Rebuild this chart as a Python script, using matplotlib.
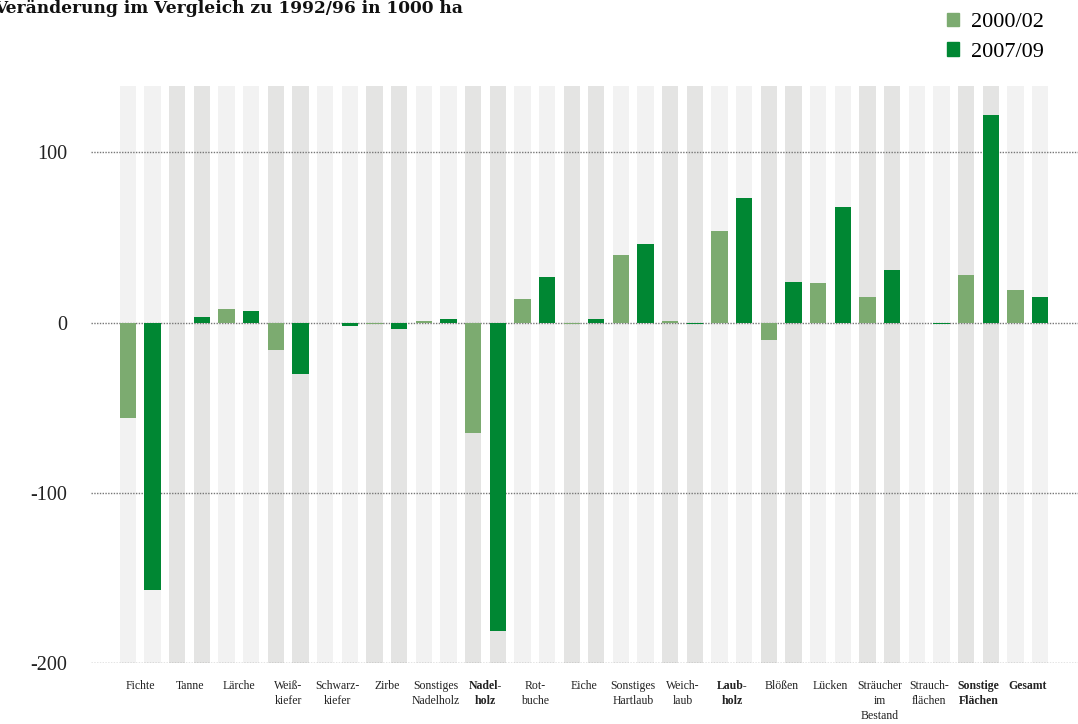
import numpy as np
import matplotlib
matplotlib.use("Agg")
import matplotlib.pyplot as plt
from matplotlib.patches import Patch

plt.rcParams['font.family'] = ['Liberation Serif', 'DejaVu Serif']

# Veränderung im Vergleich zu 1992/96 in 1000 ha
kategorien = ["Fichte", "Tanne", "Lärche", "Weiß-\nkiefer", "Schwarz-\nkiefer", "Zirbe",
              "Sonstiges\nNadelholz", "Nadel-\nholz", "Rot-\nbuche", "Eiche",
              "Sonstiges\nHartlaub", "Weich-\nlaub", "Laub-\nholz", "Blößen", "Lücken",
              "Sträucher\nim\nBestand", "Strauch-\nflächen", "Sonstige\nFlächen", "Gesamt"]
fett = ["Nadel-\nholz", "Laub-\nholz", "Sonstige\nFlächen", "Gesamt"]

w2000 = [-56, 0, 8, -16, 0, -1, 1, -65, 14, -1, 40, 1, 54, -10, 23, 15, 0, 28, 19]
w2007 = [-157, 3, 7, -30, -2, -4, 2, -181, 27, 2, 46, -1, 73, 24, 68, 31, -1, 122, 15]
serien = ["2000/02", "2007/09"]

yticks = [-200, -100, 0, 100]

hell = "#7cab70"
dunkel = "#008733"

fig = plt.figure(figsize=(10.78, 7.24), dpi=100)
ax = fig.add_axes([91/1078, 1-663/724, 1-91/1078, (663-86)/724])

x = np.arange(len(kategorien))
off = 0.25
bw = 0.33
ymin, ymax = -200, 139

# Hintergrundstreifen abwechselnd hell/dunkel je Kategorie
streifen = ["#f2f2f2" if i % 2 == 0 else "#e4e4e3" for i in range(len(kategorien))]
for d in (-off, off):
    ax.bar(x + d, ymax - ymin, bottom=ymin, width=bw, color=streifen, zorder=0)

for y in yticks:
    ax.axhline(y, color="#777777", linestyle=(0, (1, 1)), linewidth=1.0, zorder=1)

ax.bar(x - off, w2000, width=bw, color=hell, zorder=2)
ax.bar(x + off, w2007, width=bw, color=dunkel, zorder=2)

ax.set_xlim(-1.0, 19.02)
ax.set_ylim(ymin, ymax)
ax.set_yticks(yticks)
ax.set_yticklabels([str(v) for v in yticks], fontsize=14.5, color="#222222")
ax.set_xticks(x)
ax.set_xticklabels(kategorien, fontsize=8.5, linespacing=1.35, color="#222222")
for lab in ax.get_xticklabels():
    if lab.get_text() in fett:
        lab.set_fontweight("bold")
ax.tick_params(axis="both", length=0)
ax.tick_params(axis="x", pad=12)
ax.tick_params(axis="y", pad=17)
for s in ax.spines.values():
    s.set_visible(False)

fig.text(463/1078, 1-13/724, "Veränderung im Vergleich zu 1992/96 in 1000 ha",
         ha="right", va="baseline", fontsize=12.25, fontweight="bold", color="#111111",
         family=["DejaVu Serif"])

handles = [Patch(color=hell), Patch(color=dunkel)]
fig.legend(handles, serien, loc="upper left", bbox_to_anchor=(947/1078, 1-13/724),
           frameon=False, fontsize=16, handlelength=0.54, handleheight=0.54,
           handletextpad=0.54, labelspacing=0.45, borderpad=0, borderaxespad=0)

fig.savefig("out.png", dpi=100)
